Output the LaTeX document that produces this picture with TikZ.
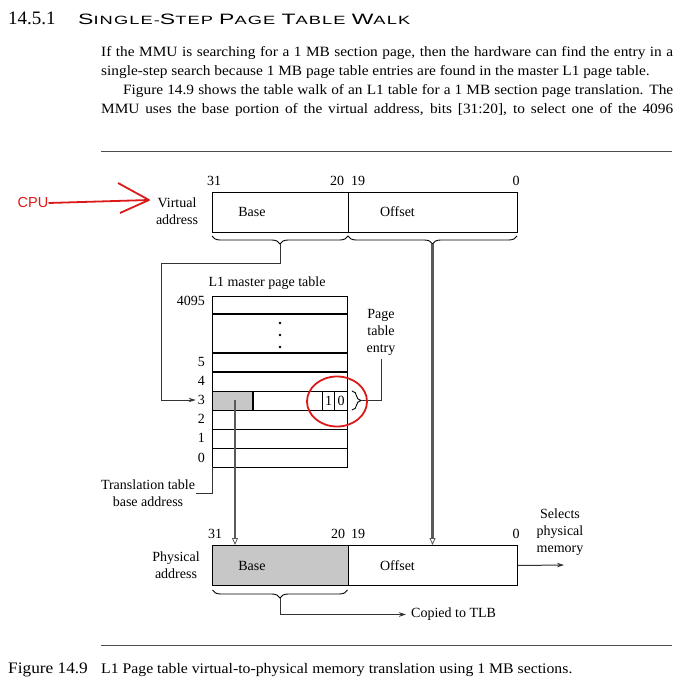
\documentclass[tikz,border=0pt]{standalone}
\usepackage{fontspec}
\setmainfont{Liberation Serif}
\newfontfamily\bodyfont{Liberation Serif}[FakeStretch=1.08]
\newfontfamily\headfont{Liberation Sans}[LetterSpace=6]
\newfontfamily\cpufont{Liberation Sans}
\usetikzlibrary{arrows.meta,decorations.pathreplacing,positioning}
\definecolor{cpured}{RGB}{220,25,25}
\newcommand\hcap[1]{{\fontsize{14.7}{16}\selectfont #1}}

\begin{document}
\begin{tikzpicture}[x=1pt,y=-1pt,
  lbl/.style={font=\fontsize{14}{17}\selectfont, inner sep=0pt, align=center},
  body/.style={font=\bodyfont\fontsize{14.2}{19}\selectfont, inner sep=0pt, anchor=base west},
  field/.style={draw, line width=1pt, minimum height=40pt, anchor=north west, inner sep=0pt},
  brc/.style={decorate, decoration={brace, mirror, amplitude=8pt}, line width=0.9pt},
  feed/.style={draw=black!65, line width=2.4pt, -{Triangle[open, line width=0.8pt, length=7pt, width=6pt]}},
  lead/.style={draw=black!80, line width=1pt},
  lead arrow/.style={lead, -{Stealth[length=7pt, width=4.5pt]}},
  redmark/.style={draw=cpured, line width=1.8pt}]
  \useasboundingbox (0,0) rectangle (685,684);

  \node[anchor=base west, inner sep=0pt, font=\fontsize{19}{22}\selectfont] (secnum) at (8,25) {14.5.1};
  \node[anchor=base west, inner sep=0pt] (sectitle) at (78,25) {\resizebox{332pt}{10.5pt}{\headfont\fontsize{11.7}{14}\selectfont \hcap{S}INGLE-\hcap{S}TEP \hcap{P}AGE \hcap{T}ABLE \hcap{W}ALK}};

  \node[body] (par1) at (101,57) {\makebox[572pt][s]{If the MMU is searching for a 1 MB section page, then the hardware can find the entry in a}};
  \node[body] (par2) at (101,76) {single-step search because 1 MB page table entries are found in the master L1 page table.};
  \node[body] (par3) at (123,95) {\makebox[550pt][s]{Figure 14.9 shows the table walk of an L1 table for a 1 MB section page translation. The}};
  \node[body] (par4) at (101,114) {\makebox[572pt][s]{MMU uses the base portion of the virtual address, bits [31:20], to select one of the 4096}};
  \draw[black!70, line width=1pt] (101,152) -- (672,152);

  \node[lbl, text=cpured, font=\cpufont\fontsize{14.5}{16}\selectfont] (cpu) at (33,203) {CPU};
  \coordinate (cputip) at (149,200);
  \draw[redmark] (cpu.east) -- (cputip);
  \draw[redmark, line join=round] (118,183) -- (cputip) -- (120,213);

  \node[lbl] (vlabel) at (177,211) {Virtual\\address};
  \node[field, minimum width=136pt] (vbase) at (212,192) {};
  \node[field, minimum width=169pt] (voff) at (348,192) {};
  \node[lbl] (vbasetxt) at (252,212) {Base};
  \node[lbl] (vofftxt) at (397.5,212) {Offset};
  \node[lbl] (v31) at (214,181) {31};
  \node[lbl] (v20) at (337,181) {20};
  \node[lbl] (v19) at (358,181) {19};
  \node[lbl] (v0) at (516,181) {0};
  \draw[brc] (212,236) -- (348,236);
  \draw[brc] (348,236) -- (517,236);
  \coordinate (vbtip) at (280,244);
  \coordinate (votip) at (432.5,244);

  \node[lbl] (tbltitle) at (267,283) {L1 master page table};
  \fill[black!22] (212,391) rectangle (253,410);
  \draw[line width=0.8pt] (212,296) rectangle (347,467);
  \foreach \y in {391,410,429,448} \draw[line width=0.8pt] (212,\y) -- (347,\y);
  \foreach \y in {314,353,372} \draw[line width=1.4pt] (212,\y) -- (347,\y);
  \draw[line width=1.4pt] (253,391) -- (253,410);
  \draw[line width=0.8pt] (322.5,391) -- (322.5,410) (334.5,391) -- (334.5,410);
  \node[lbl] (bit1) at (328.5,401) {1};
  \node[lbl] (bit0) at (341,401) {0};
  \foreach \y in {323,335,347} \fill (280,\y) circle (1.3);
  \node[lbl, anchor=east] (r4095) at (205,301) {4095};
  \node[lbl, anchor=east] (r5) at (205,362) {5};
  \node[lbl, anchor=east] (r4) at (205,380.5) {4};
  \node[lbl, anchor=east] (r3) at (205,400) {3};
  \node[lbl, anchor=east] (r2) at (205,419) {2};
  \node[lbl, anchor=east] (r1) at (205,438) {1};
  \node[lbl, anchor=east] (r0) at (205,457.5) {0};
  \draw[lead arrow] (vbtip) -- ++(0,20) -| (161,400) -- ([xshift=-2pt]r3.west);

  \node[lbl] (pte) at (381,332.5) {Page\\table\\entry};
  \draw[decorate, decoration={brace, amplitude=9pt}, line width=0.9pt] (352,391) -- (352,410);
  \coordinate (pttip) at (361,400.5);
  \draw[lead] (pttip) -| ([yshift=-3pt]pte.south);
  \draw[redmark] (337,401.5) ellipse (30 and 25);

  \node[lbl] (ttbl) at (148,493) {Translation table\\base address};
  \draw[lead] (212,467) |- ([xshift=1pt]ttbl.east);

  \node[lbl] (plabel) at (176,565) {Physical\\address};
  \node[field, minimum width=136pt, fill=black!22] (pbase) at (212,545) {};
  \node[field, minimum width=169pt] (poff) at (348,545) {};
  \node[lbl] (pbasetxt) at (252,566) {Base};
  \node[lbl] (pofftxt) at (397.5,566) {Offset};
  \node[lbl] (p31) at (215,534) {31};
  \node[lbl] (p20) at (338,534) {20};
  \node[lbl] (p19) at (358,534) {19};
  \node[lbl] (p0) at (516,534) {0};
  \coordinate (pbsrc) at (235,400);
  \draw[feed] (pbsrc) -- (pbsrc |- pbase.north);
  \draw[feed] (votip) -- (votip |- poff.north);

  \node[lbl] (selmem) at (560,532.5) {Selects\\physical\\memory};
  \coordinate (memout) at (564,565);
  \draw[lead arrow] (poff.east) -- (memout);

  \draw[brc] (212.5,590) -- (347.5,590);
  \coordinate (pbtip) at (280,598);
  \node[lbl, anchor=west] (tlb) at (411,614.5) {Copied to TLB};
  \draw[lead arrow] (pbtip) |- ([xshift=-5pt]tlb.west);

  \draw[black!70, line width=1pt] (101,645) -- (672,645);
  \node[anchor=base west, inner sep=0pt, font=\bodyfont\fontsize{16}{18}\selectfont] (fignum) at (8,673) {Figure 14.9};
  \node[anchor=base west, inner sep=0pt, font=\bodyfont\fontsize{14.6}{17}\selectfont] (figcap) at (101,673) {L1 Page table virtual-to-physical memory translation using 1 MB sections.};
\end{tikzpicture}
\end{document}
